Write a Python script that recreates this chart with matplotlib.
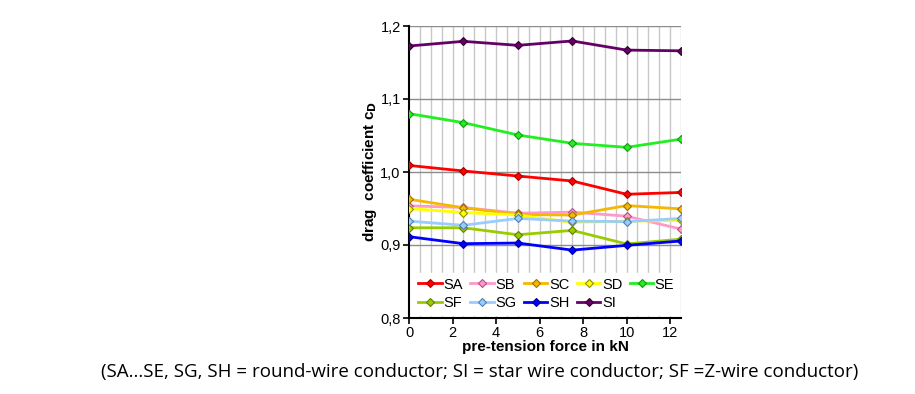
import matplotlib
matplotlib.use("Agg")
import matplotlib.pyplot as plt
import numpy as np

force = [0, 2.5, 5, 7.5, 10, 12.5]
names = ["SA", "SB", "SC", "SD", "SE", "SF", "SG", "SH", "SI"]
SA = [1.009, 1.0014, 0.9945, 0.9877, 0.9695, 0.972]
SB = [0.9536, 0.9514, 0.9436, 0.945, 0.9395, 0.9218]
SC = [0.9627, 0.951, 0.9418, 0.941, 0.954, 0.9495]
SD = [0.950, 0.9445, 0.941, 0.931, 0.9327, 0.9336]
SE = [1.080, 1.0676, 1.0507, 1.0393, 1.0338, 1.045]
SF = [0.9236, 0.9236, 0.914, 0.920, 0.9014, 0.908]
SG = [0.9327, 0.927, 0.9364, 0.9327, 0.932, 0.9364]
SH = [0.9114, 0.9018, 0.9027, 0.893, 0.8995, 0.9055]
SI = [1.1726, 1.179, 1.1735, 1.1795, 1.167, 1.166]
series = [SA, SB, SC, SD, SE, SF, SG, SH, SI]
colors = ["#ff0000", "#ff99cc", "#f5b800", "#ffff00", "#22ee22",
          "#99cc00", "#99ccff", "#0000ff", "#660066"]
edges = ["#aa0000", "#b05080", "#a07000", "#909000", "#119911",
         "#608000", "#5080b0", "#000099", "#330033"]

plt.rcParams['font.family'] = ['Liberation Sans', 'DejaVu Sans']

fig = plt.figure(figsize=(9.15, 3.94), dpi=100)
ax = fig.add_axes([409/915, 1-318/394, 272/915, 292/394])

ax.set_xlim(0, 12.5)
ax.set_ylim(0.8, 1.2)
for xv in np.arange(0.5, 12.6, 0.5):
    ax.axvline(xv, color="#c8c8c8", lw=1, zorder=0)
for yv in [0.9, 1.0, 1.1, 1.2]:
    ax.axhline(yv, color="#8c8c8c", lw=1, zorder=0.5)

handles = []
for name, vals, c, e in zip(names, series, colors, edges):
    h, = ax.plot(force, vals, color=c, lw=2, marker="D", markersize=4.5,
                 markerfacecolor=c, markeredgecolor=e, markeredgewidth=0.8,
                 label=name, zorder=3)
    handles.append(h)

ax.set_xticks([0, 2, 4, 6, 8, 10, 12])
ax.set_xticklabels(["0", "2", "4", "6", "8", "10", "12"])
ax.set_yticks([0.8, 0.9, 1.0, 1.1, 1.2])
ax.set_yticklabels(["0,8", "0,9", "1,0", "1,1", "1,2"])
ax.tick_params(axis="both", labelsize=10.5, direction="out", length=4,
               width=1.2, color="black", pad=2)
for s in ["top", "right"]:
    ax.spines[s].set_visible(False)
for s in ["left", "bottom"]:
    ax.spines[s].set_linewidth(1.5)
    ax.spines[s].set_color("black")

ax.set_xlabel("pre-tension force in kN", fontsize=11, fontweight="bold", labelpad=0)
ax.set_ylabel("drag  coefficient c$_\\mathbf{D}$", fontsize=11, fontweight="bold", labelpad=1)

order = [0, 5, 1, 6, 2, 7, 3, 8, 4]
leg = ax.legend([handles[i] for i in order], [names[i] for i in order],
                ncol=5, loc="lower left", bbox_to_anchor=(0.005, 0.0, 1.0, 0.2),
                mode="expand", fontsize=10.5, frameon=True, fancybox=False,
                handlelength=1.6, handletextpad=0.1, columnspacing=0.6,
                borderpad=0.35, labelspacing=0.3, borderaxespad=0.2)
leg.get_frame().set_edgecolor("white")
leg.get_frame().set_facecolor("white")
leg.get_frame().set_alpha(1)
leg.set_zorder(5)

fig.text(480/915, 1-372/394,
         "(SA...SE, SG, SH = round-wire conductor; SI = star wire conductor; SF =Z-wire conductor)",
         ha="center", va="center", fontsize=13.5, family=["Open Sans", "DejaVu Sans"])

fig.savefig("out.png", dpi=100)
